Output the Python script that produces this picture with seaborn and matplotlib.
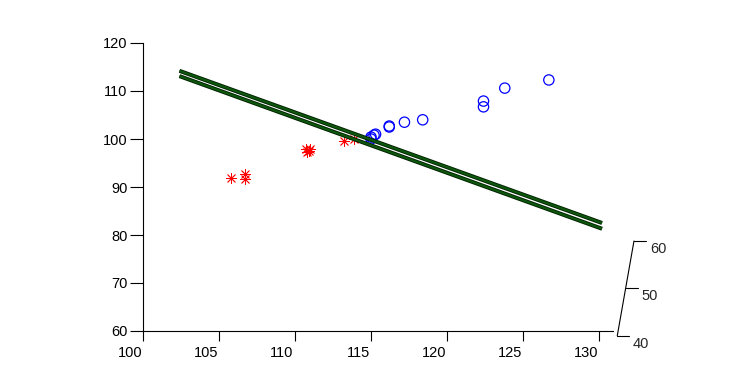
import pandas as pd
import seaborn as sns
import matplotlib
matplotlib.use('Agg')
import matplotlib.pyplot as plt
from matplotlib import patheffects
from matplotlib.transforms import ScaledTranslation

# class 1 (red asterisks) and class 2 (blue circles), front-view projection
red_x = [105.8, 106.7, 106.7, 110.7, 110.9, 110.8, 111.0, 113.2, 113.9]
red_y = [91.9, 92.7, 91.7, 98.0, 97.6, 97.3, 97.9, 99.6, 100.0]
blue_x = [115.0, 115.2, 115.0, 115.3, 116.2, 116.2, 117.2, 118.4, 122.4, 122.4, 123.8, 126.7]
blue_y = [100.0, 100.8, 100.4, 101.0, 102.5, 102.7, 103.5, 104.0, 106.7, 107.9, 110.6, 112.3]

# separating plane, seen almost edge-on (its two edges)
plane_x = [102.4, 130.2]
plane_top = [114.2, 82.5]
plane_bottom = [113.1, 81.3]

x_ticks = [100, 105, 110, 115, 120, 125, 130]
y_ticks = [60, 70, 80, 90, 100, 110, 120]
z_ticks = [40, 50, 60]

red = pd.DataFrame({'x': red_x, 'y': red_y})
blue = pd.DataFrame({'x': blue_x, 'y': blue_y})

sns.set_style('white')
plt.rcParams['font.family'] = ['Liberation Sans', 'DejaVu Sans']

fig = plt.figure(figsize=(7.41, 3.86), dpi=100)
ax = fig.add_axes([143 / 741, 1 - 331 / 386, 470 / 741, 288 / 386])

for ys in (plane_top, plane_bottom):
    ax.plot(plane_x, ys, color='#0e560e', lw=1.6, solid_capstyle='butt',
            path_effects=[patheffects.Stroke(linewidth=2.9, foreground='#002200'),
                          patheffects.Normal()])

sns.scatterplot(data=red, x='x', y='y', ax=ax, marker=(8, 2, 0), s=55,
                color='red', linewidth=0.6)
sns.scatterplot(data=blue, x='x', y='y', ax=ax, marker='o', s=55,
                color='blue', facecolors='none', edgecolor='blue', linewidth=0.9)

ax.set_xlim(100, 130.92)
ax.set_ylim(60, 120)
ax.set_xticks(x_ticks)
ax.set_yticks(y_ticks)
ax.set_xlabel('')
ax.set_ylabel('')
for s in ('top', 'right'):
    ax.spines[s].set_visible(False)
for s in ('left', 'bottom'):
    ax.spines[s].set_color('black')
    ax.spines[s].set_linewidth(0.8)
ax.tick_params(axis='both', direction='out', colors='black', width=0.8,
               labelsize=10.5, left=True, bottom=True)
ax.tick_params(axis='y', length=9.5, pad=1.5)
ax.tick_params(axis='x', length=7.5, pad=3)

for lab in ax.get_xticklabels():
    lab.set_transform(lab.get_transform() + ScaledTranslation(-13 / 100, 0, fig.dpi_scale_trans))

# depth axis (third dimension) drawn at the right end
z0 = (131.2, 59.0)
z1 = (132.3, 78.75)
ax.plot([z0[0], z1[0]], [z0[1], z1[1]], color='black', lw=0.8, clip_on=False)
for z in z_ticks:
    f = (z - z_ticks[0]) / (z_ticks[-1] - z_ticks[0])
    px = z0[0] + f * (z1[0] - z0[0])
    py = z0[1] + f * (z1[1] - z0[1])
    ax.plot([px, px + 0.8], [py, py], color='black', lw=0.8, clip_on=False)
    ax.annotate(str(z), (px, py), xytext=(24, -8), textcoords='offset pixels',
                ha='center', va='center', fontsize=10.5, annotation_clip=False)

fig.savefig('out.png', dpi=100)
